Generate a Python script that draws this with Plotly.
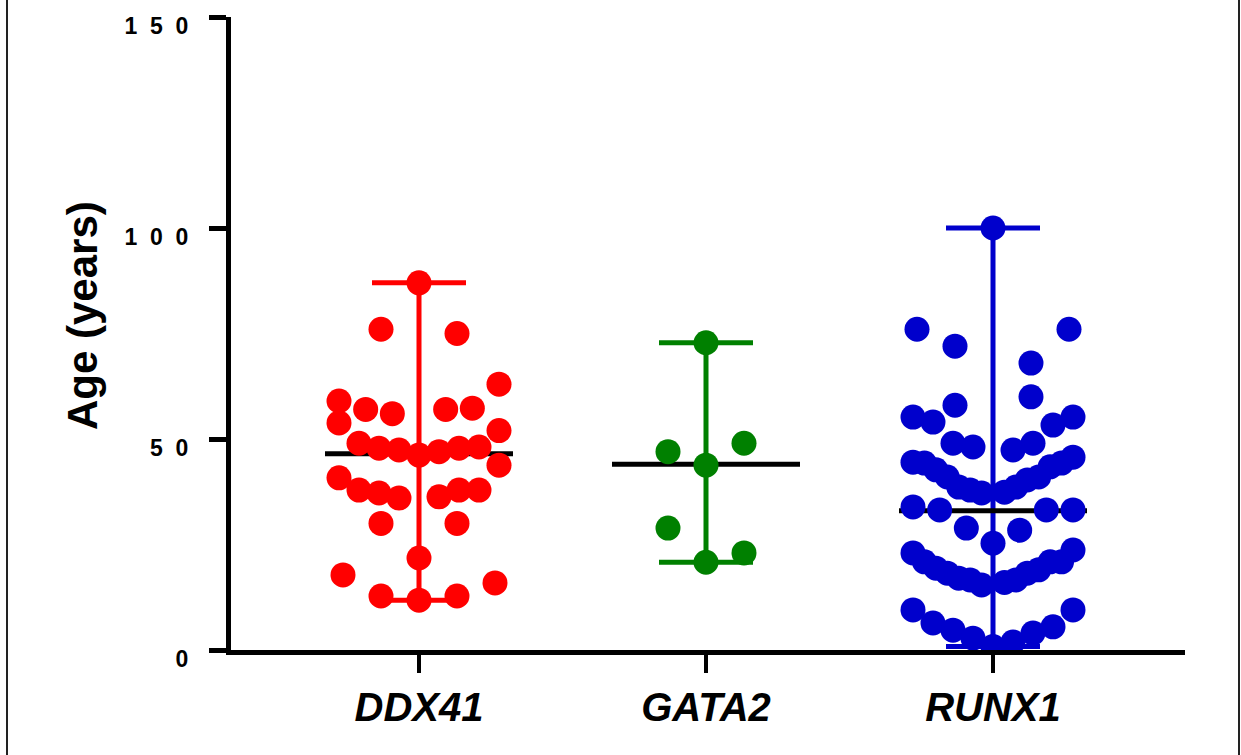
import numpy as np
import plotly.graph_objects as go

# ---------------- data ----------------
genes = ["DDX41", "GATA2", "RUNX1"]

ddx41_age = [87, 76, 75, 63, 59, 57, 56, 57.3, 57, 53.8, 52,
             47.8, 47, 47.4, 46.2, 47.8, 48.1, 49, 43.8,
             40.8, 37.9, 37.2, 36.3, 36, 37.9, 37.9,
             30, 30, 21.8, 17.8, 15.9, 12.8, 11.8, 12.8]

gata2_age = [72.8, 47, 49, 43.8, 28.9, 23, 20.8]

runx1_age = [100, 76, 76, 72, 68, 60, 58, 55.2, 55.2, 53.3, 54,
             49, 47.4, 48.1, 49, 45.7, 44.5,
             44.3, 43.4, 40.3, 41, 38.6, 37.4, 37.2, 38.6, 37.9, 41, 42.7, 44.3,
             33.9, 33.2, 33.2, 33.2,
             28.9, 28.4, 23.7, 25.3, 23,
             20.9, 20.9, 19, 18.2, 17, 16, 15.4, 16.6, 16.6, 18.2, 19.4, 20.9,
             9.5, 6.4, 4.7, 2.8, 0.8, 1.9, 4, 5.5, 9.5]

medians = [46.5, 44.0, 33.0]

y_tick_vals = [0, 50, 100, 150]
y_tick_text = ["0", "5\u00a0\u00a00", "1\u00a0\u00a00\u00a0\u00a00", "1\u00a0\u00a05\u00a0\u00a00"]

# ---------------- styles / layout constants ----------------
colors = ["#FF0000", "#008000", "#0000CC"]
FONT = "Liberation Sans, Arial, sans-serif"
W, H = 1241, 755
ML, MR, MT, MB = 231, 56, 17, 105
CAT0_PX, CAT_STEP_PX = 419, 287          # pixel position of first category, spacing
MARKER = 25
ROW_GAP, ROW_RANGE = 5.9, 9.0            # row grouping (data units)
STEP_MAX_PX, ROW_HALF_PX = 38.0, 80.0    # horizontal spreading of a row

plot_w = W - ML - MR
plot_h = H - MT - MB
px_per_x = CAT_STEP_PX
x_min = -(CAT0_PX - ML) / px_per_x
X_RANGE = [x_min, x_min + plot_w / px_per_x]
Y_RANGE = [0, 150]
px_per_y = plot_h / (Y_RANGE[1] - Y_RANGE[0])


def row_scatter(values):
    """Prism-like scatter: group close values into rows, spread each row
    symmetrically, lowest value in the middle (gives the 'smile' rows)."""
    vals = np.asarray(values, dtype=float)
    order = np.argsort(vals, kind="stable")
    rows = []
    for idx in order:
        v = vals[idx]
        if rows and v - vals[rows[-1][-1]] <= ROW_GAP + 1e-9 \
                and v - vals[rows[-1][0]] <= ROW_RANGE:
            rows[-1].append(idx)
        else:
            rows.append([idx])
    offs = np.zeros(len(vals))
    for r, row in enumerate(rows):
        n = len(row)
        if n == 1:
            continue
        if n % 2:
            step = min(STEP_MAX_PX, 2 * ROW_HALF_PX / (n - 1))
            ks = range(-(n // 2), n // 2 + 1)
        else:
            step = min(STEP_MAX_PX, 2 * ROW_HALF_PX / n)
            ks = [k for k in range(-(n // 2), n // 2 + 1) if k != 0]
        slots = [k * step for k in ks]
        sgn = -1 if r % 2 == 0 else 1
        slots.sort(key=lambda s: (round(abs(s), 6), sgn * s))
        for idx, s in zip(row, slots):
            offs[idx] = s
    return offs


groups = [ddx41_age, gata2_age, runx1_age]

fig = go.Figure()

# range bars (min-max) with caps
for i, (vals, col, med) in enumerate(zip(groups, colors, medians)):
    fig.add_trace(go.Scatter(
        x=[i], y=[med], mode="markers",
        marker=dict(size=1, color="rgba(0,0,0,0)"),
        error_y=dict(type="data", symmetric=False,
                     array=[max(vals) - med], arrayminus=[med - min(vals)],
                     color=col, thickness=5, width=47),
        hoverinfo="skip", showlegend=False))

# median lines
half_med = 94 / px_per_x
for i, med in enumerate(medians):
    fig.add_trace(go.Scatter(
        x=[i - half_med, i + half_med], y=[med, med], mode="lines",
        line=dict(color="black", width=5), hoverinfo="skip", showlegend=False))

# points
for i, (vals, col, name) in enumerate(zip(groups, colors, genes)):
    offs = row_scatter(vals)
    fig.add_trace(go.Scatter(
        x=i + offs / px_per_x, y=vals, mode="markers", name=name,
        marker=dict(size=MARKER, color=col, line=dict(width=0)),
        showlegend=False))

fig.update_layout(
    width=W, height=H,
    margin=dict(l=ML, r=MR, t=MT, b=MB, pad=0),
    plot_bgcolor="white", paper_bgcolor="white",
    showlegend=False,
    font=dict(family=FONT, color="black"),
    xaxis=dict(
        range=X_RANGE, tickmode="array", tickvals=[0, 1, 2], ticktext=genes,
        showline=True, linewidth=5, linecolor="black",
        ticks="outside", ticklen=18, tickwidth=4, tickcolor="black",
        tickfont=dict(size=40, weight="bold", style="italic", family=FONT),
        ticklabelstandoff=0, automargin=False,
        showgrid=False, zeroline=False),
    yaxis=dict(
        range=Y_RANGE, tickmode="array", tickvals=y_tick_vals, ticktext=y_tick_text,
        showline=True, linewidth=5, linecolor="black",
        ticks="outside", ticklen=17, tickwidth=5, tickcolor="black",
        tickfont=dict(size=23, weight="bold", family=FONT),
        ticklabelstandoff=16, ticklabelshift=9, automargin=False,
        showgrid=False, zeroline=False),
    annotations=[dict(
        text="Age (years)", textangle=-90, showarrow=False,
        xref="paper", yref="paper",
        x=(82 - ML) / plot_w, y=(H - MB - 316) / plot_h,
        xanchor="center", yanchor="middle",
        font=dict(size=42, weight="bold", family=FONT))],
    shapes=[
        dict(type="line", xref="paper", yref="paper",
             x0=(7 - ML) / plot_w, x1=(7 - ML) / plot_w,
             y0=-(MB + 5) / plot_h, y1=(plot_h + MT + 5) / plot_h,
             line=dict(color="#222222", width=2)),
        dict(type="line", xref="paper", yref="paper",
             x0=(1239 - ML) / plot_w, x1=(1239 - ML) / plot_w,
             y0=-(MB + 5) / plot_h, y1=(plot_h + MT + 5) / plot_h,
             line=dict(color="#222222", width=2)),
    ],
)

fig.write_html("out.html")
